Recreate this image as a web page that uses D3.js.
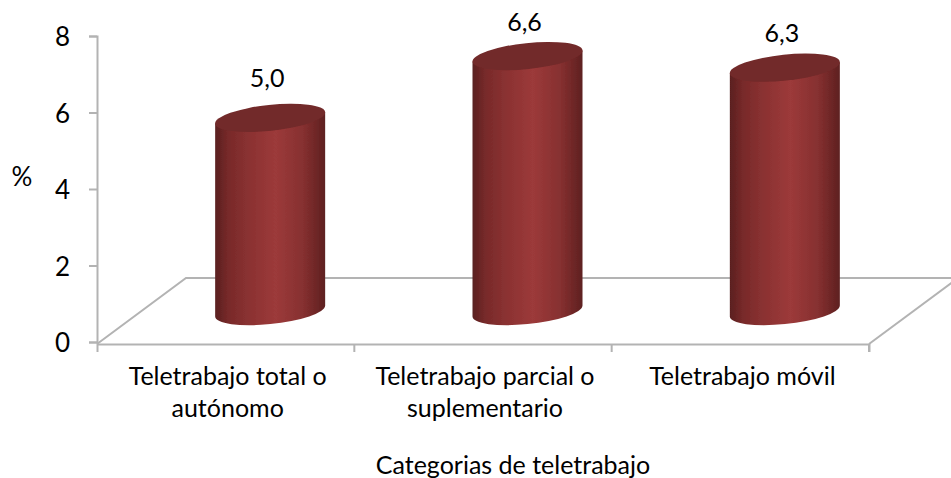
<!doctype html>
<html lang="es">
  <head>
    <meta charset="utf-8">
    <title>Categorias de teletrabajo</title>
    <script src="https://d3js.org/d3.v7.min.js"></script>
    <style>
      html, body { margin: 0; padding: 0; background: #fff; }
      svg { display: block; }
      text { font-family: Lato, "Open Sans", sans-serif; fill: #000; }
    </style>
  </head>
  <body>
    <div id="chart"></div>
    <script>
    // Chart values
    const categories = ['Teletrabajo total o autónomo', 'Teletrabajo parcial o suplementario', 'Teletrabajo móvil'];
    const categoryLines = [['Teletrabajo total o', 'autónomo'], ['Teletrabajo parcial o', 'suplementario'], ['Teletrabajo móvil']];
    const values = [5.0, 6.6, 6.3];
    const yTicks = [0, 2, 4, 6, 8];

    const width = 951, height = 478;
    const fontSize = 25;
    const axisColor = '#b3b3b3';

    const svg = d3.select('#chart').append('svg')
        .attr('width', width)
        .attr('height', height);

    // Set up scales
    const x = d3.scaleBand().domain(categories).range([97, 869]);
    const y = d3.scaleLinear().domain([0, 8]).range([342, 36]);
    // the cylinders stand in the middle of the floor, so they get their own scale
    const barY = d3.scaleLinear().domain([0, 8]).range([311, 2]);
    const labelY = d3.scaleLinear().domain([0, 8]).range([263, -18]);
    const depthX = 44.5, depthY = 66;
    const rx = 55, ry = 13, tilt = -6;

    // Cylinder shading
    const defs = svg.append('defs');
    const grad = defs.append('linearGradient').attr('id', 'body');
    [[0, '#5a1f1f'], [0.12, '#782a2a'], [0.3, '#8a3131'], [0.55, '#9c3a3a'], [0.8, '#863030'], [1, '#5e2020']]
        .forEach(function(s) {
            grad.append('stop').attr('offset', s[0]).attr('stop-color', s[1]);
        });
    defs.append('filter').attr('id', 'soft')
        .append('feGaussianBlur').attr('stdDeviation', 0.5);

    // Floor
    const x0 = x.range()[0], x1 = x.range()[1];
    const floor = svg.append('g')
        .attr('fill', 'none')
        .attr('stroke', axisColor)
        .attr('stroke-width', 2);
    floor.append('path').attr('d', d3.line()([[x0, 344], [x0 + 2 * depthX, 344 - depthY], [width, 344 - depthY]]));
    floor.append('path').attr('d', d3.line()([[x1, 344], [x1 + 2 * depthX, 344 - depthY]]));

    // Draw axes
    const yAxis = svg.append('g')
        .attr('transform', 'translate(' + x0 + ',0)')
        .call(d3.axisLeft(y).tickValues(yTicks).tickSize(8).tickPadding(19));
    const xAxis = svg.append('g')
        .attr('transform', 'translate(0,344)')
        .call(d3.axisBottom(x).tickValues([]).tickSizeOuter(8));
    xAxis.selectAll('.tickline').data(x.domain()).enter().append('line')
        .attr('class', 'tickline')
        .attr('x1', function(d) { return x(d) + x.bandwidth(); })
        .attr('x2', function(d) { return x(d) + x.bandwidth(); })
        .attr('y2', 8);
    svg.selectAll('.domain, .tick line, .tickline')
        .attr('stroke', axisColor)
        .attr('stroke-width', 2);
    yAxis.selectAll('text')
        .attr('y', 1.5)
        .style('font-size', '26px')
        .style('font-family', 'Lato');

    // Draw cylinders
    const bars = svg.append('g').selectAll('g')
        .data(categories)
        .enter().append('g')
        .attr('filter', 'url(#soft)');

    function cx(d) { return x(d) + x.bandwidth() / 2 + depthX; }
    const edgeY = 5.5; // tilted ellipse: the left edge sits lower than the right

    bars.append('path')
        .attr('fill', 'url(#body)')
        .attr('d', function(d, i) {
            const l = cx(d) - rx, r = cx(d) + rx, top = barY(values[i]), base = barY(0);
            return 'M' + l + ',' + (top + edgeY) +
                'L' + l + ',' + (base + edgeY) +
                'A' + rx + ',' + ry + ',' + tilt + ',0,0,' + r + ',' + (base - edgeY) +
                'L' + r + ',' + (top - edgeY) + 'Z';
        });

    bars.append('ellipse')
        .attr('fill', '#722a2a')
        .attr('rx', rx + 0.3)
        .attr('ry', ry)
        .attr('transform', function(d, i) {
            return 'translate(' + cx(d) + ',' + barY(values[i]) + ')rotate(' + tilt + ')';
        });

    // Value labels
    svg.append('g').selectAll('text')
        .data(categories)
        .enter().append('text')
        .attr('x', function(d) { return cx(d) - 3; })
        .attr('y', function(d, i) { return labelY(values[i]); })
        .attr('text-anchor', 'middle')
        .style('font-size', fontSize + 'px')
        .text(function(d, i) { return values[i].toFixed(1).replace('.', ','); });

    // Category labels
    svg.append('g').selectAll('text')
        .data(categories)
        .enter().append('text')
        .attr('text-anchor', 'middle')
        .style('font-size', fontSize + 'px')
        .each(function(d, i) {
            d3.select(this).selectAll('tspan')
                .data(categoryLines[i])
                .enter().append('tspan')
                .attr('x', x(d) + x.bandwidth() / 2 + 2)
                .attr('y', function(t, j) { return 385 + j * 32; })
                .text(function(t) { return t; });
        });

    // Axis titles
    svg.append('text')
        .attr('x', 513)
        .attr('y', 474)
        .attr('text-anchor', 'middle')
        .style('font-size', fontSize + 'px')
        .text('Categorias de teletrabajo');
    svg.append('text')
        .attr('x', 22)
        .attr('y', 186)
        .attr('text-anchor', 'middle')
        .style('font-size', '26px')
        .text('%');
    </script>
  </body>
</html>
